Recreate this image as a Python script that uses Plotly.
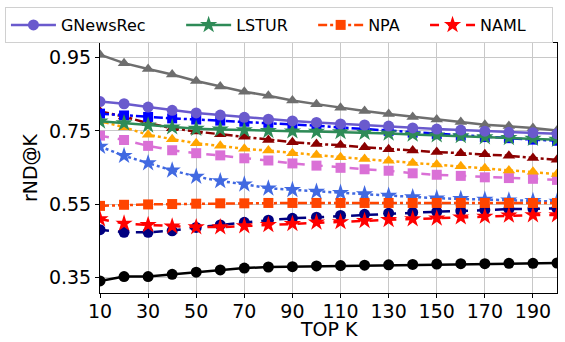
import plotly.graph_objects as go

top_k = [10, 20, 30, 40, 50, 60, 70, 80, 90, 100, 110, 120, 130, 140, 150, 160, 170, 180, 190, 200]
x_ticks = [10, 30, 50, 70, 90, 110, 130, 150, 170, 190]
y_ticks = [0.35, 0.55, 0.75, 0.95]

gray_tri = [0.958, 0.935, 0.919, 0.904, 0.886, 0.871, 0.857, 0.846, 0.833, 0.823,
            0.813, 0.804, 0.796, 0.788, 0.781, 0.774, 0.767, 0.763, 0.758, 0.751]
gnewsrec = [0.830, 0.824, 0.815, 0.806, 0.799, 0.793, 0.787, 0.782, 0.777, 0.773,
            0.769, 0.766, 0.763, 0.758, 0.755, 0.752, 0.749, 0.746, 0.745, 0.742]
blue_sq = [0.797, 0.792, 0.788, 0.784, 0.781, 0.778, 0.775, 0.772, 0.768, 0.764,
           0.759, 0.755, 0.750, 0.745, 0.741, 0.737, 0.733, 0.730, 0.726, 0.723]
darkred_tri = [0.803, 0.789, 0.771, 0.757, 0.748, 0.741, 0.734, 0.725, 0.719, 0.714,
               0.711, 0.705, 0.700, 0.696, 0.692, 0.689, 0.686, 0.682, 0.676, 0.671]
lstur = [0.776, 0.771, 0.765, 0.760, 0.756, 0.754, 0.752, 0.750, 0.749, 0.748,
         0.747, 0.745, 0.743, 0.740, 0.738, 0.736, 0.733, 0.731, 0.729, 0.726]
orange_tri = [0.777, 0.760, 0.739, 0.727, 0.716, 0.709, 0.701, 0.696, 0.689, 0.684,
              0.678, 0.673, 0.668, 0.662, 0.658, 0.653, 0.648, 0.642, 0.638, 0.632]
orchid_sq = [0.737, 0.725, 0.709, 0.697, 0.689, 0.683, 0.675, 0.669, 0.661, 0.655,
             0.649, 0.645, 0.641, 0.634, 0.630, 0.627, 0.623, 0.621, 0.619, 0.616]
royal_star = [0.707, 0.682, 0.662, 0.642, 0.625, 0.613, 0.604, 0.593, 0.589, 0.584,
              0.581, 0.577, 0.573, 0.569, 0.566, 0.564, 0.562, 0.560, 0.559, 0.557]
npa = [0.545, 0.548, 0.549, 0.550, 0.551, 0.552, 0.552, 0.553, 0.553, 0.553,
       0.553, 0.553, 0.553, 0.553, 0.553, 0.553, 0.553, 0.553, 0.553, 0.553]
navy_circ = [0.480, 0.473, 0.473, 0.477, 0.486, 0.493, 0.500, 0.506, 0.511, 0.514,
             0.519, 0.522, 0.525, 0.527, 0.529, 0.531, 0.534, 0.536, 0.537, 0.538]
naml = [0.509, 0.497, 0.493, 0.489, 0.487, 0.487, 0.490, 0.493, 0.496, 0.500,
        0.501, 0.504, 0.507, 0.509, 0.511, 0.514, 0.516, 0.519, 0.520, 0.520]
black_circ = [0.340, 0.352, 0.352, 0.358, 0.364, 0.370, 0.375, 0.378, 0.379, 0.381,
              0.382, 0.383, 0.384, 0.385, 0.386, 0.387, 0.387, 0.388, 0.388, 0.389]

x_title = "TOP K"
y_title = "rND@K"

# (name, values, color, dash, marker, size, show in legend, legend rank, legend padding)
series = [
    ("gray", gray_tri, "#6e6e6e", "solid", "triangle-up", 11, False, 100, 0),
    ("orchid", orchid_sq, "#da70d6", "dash", "square", 10, False, 100, 0),
    ("orange", orange_tri, "#ffa500", "dot", "triangle-up", 11, False, 100, 0),
    ("royal", royal_star, "#4169e1", "dot", "star", 13, False, 100, 0),
    ("darkred", darkred_tri, "#8b0000", "dashdot", "triangle-up", 11, False, 100, 0),
    ("blue", blue_sq, "#0000ff", "dashdot", "square", 10, False, 100, 0),
    ("LSTUR", lstur, "#2e8b57", "solid", "star", 13, True, 2, 4),
    ("GNewsRec", gnewsrec, "#6a5acd", "solid", "circle", 11, True, 1, 6),
    ("navy", navy_circ, "#000080", "dash", "circle", 11, False, 100, 0),
    ("NAML", naml, "#ff0000", "dash", "star", 13, True, 4, 4),
    ("NPA", npa, "#ff4500", "dashdot", "square", 10, True, 3, 4),
    ("black", black_circ, "#000000", "solid", "circle", 11, False, 100, 0),
]

fig = go.Figure()
for name, vals, color, dash, sym, size, show, rank, pad in series:
    fig.add_trace(go.Scatter(
        x=top_k, y=vals, name=name + "\u00a0" * pad, mode="lines+markers",
        line=dict(color=color, width=2.5, dash=dash),
        marker=dict(symbol=sym, size=size, color=color, line=dict(width=0)),
        showlegend=show, legendrank=rank,
    ))

fig.add_annotation(
    text=x_title, xref="paper", yref="paper", x=0.5, y=-0.196,
    xanchor="center", yanchor="bottom", showarrow=False,
    font=dict(size=19, family="DejaVu Sans", color="black"),
)

fig.update_layout(
    width=565, height=342,
    margin=dict(l=100, r=8, t=43, b=49, autoexpand=False),
    paper_bgcolor="white", plot_bgcolor="white",
    font=dict(family="DejaVu Sans", color="black"),
    legend=dict(
        orientation="h", xref="paper", yref="paper",
        x=-0.208, y=1.144, xanchor="left", yanchor="top",
        font=dict(size=16, family="DejaVu Sans"),
        bordercolor="#d0d0d0", borderwidth=1, bgcolor="white",
        itemwidth=45, tracegroupgap=0,
    ),
    xaxis=dict(
        range=[10, 200], tickmode="array", tickvals=x_ticks,
        tickfont=dict(size=19), showgrid=True, gridcolor="#c8c8c8", gridwidth=1,
        showline=True, linecolor="black", linewidth=1, mirror=True,
        ticks="outside", ticklen=4, tickcolor="black", zeroline=False,
        ticklabelstandoff=-3,
    ),
    yaxis=dict(
        range=[0.307, 0.99], tickmode="array", tickvals=y_ticks,
        ticktext=[f"{v:.2f}" for v in y_ticks],
        title=dict(text=y_title, font=dict(size=19), standoff=6),
        tickfont=dict(size=19), showgrid=True, gridcolor="#c8c8c8", gridwidth=1,
        showline=True, linecolor="black", linewidth=1, mirror=True,
        ticks="outside", ticklen=4, tickcolor="black", zeroline=False,
    ),
)

fig.write_html("out.html")
